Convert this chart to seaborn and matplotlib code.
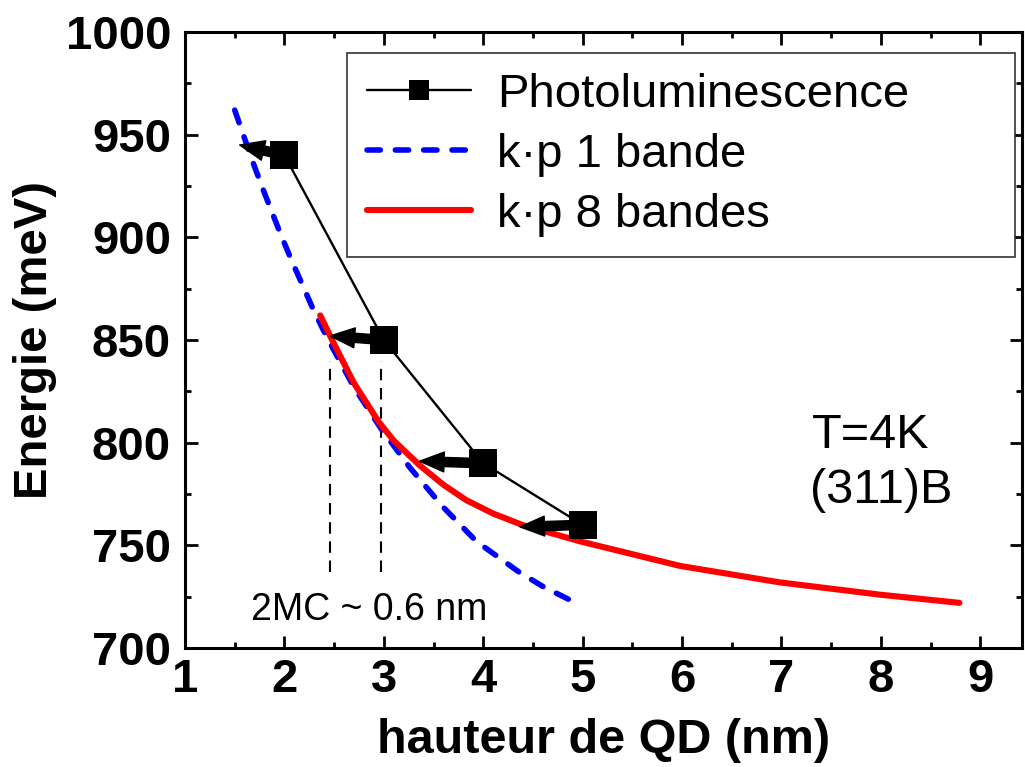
import numpy as np
import pandas as pd
import matplotlib
matplotlib.use("Agg")
import matplotlib.pyplot as plt
import seaborn as sns

# data
pl_h = [2.0, 3.0, 4.0, 5.0]
pl_e = [940, 850, 790, 760]

kp1_h = [1.50, 1.68, 1.78, 1.95, 2.07, 2.18, 2.28, 2.42, 2.70, 2.97, 3.26,
         3.59, 3.75, 3.93, 4.36, 4.60, 4.93]
kp1_e = [962, 937, 924, 903, 889, 877, 866, 852, 827, 807, 788,
         769, 761, 752, 737, 730, 722]

kp8_h = [2.36, 2.48, 2.70, 2.95, 3.10, 3.36, 3.60, 3.83, 4.10, 4.39, 4.97,
         5.98, 6.98, 7.99, 8.79]
kp8_e = [862, 850, 829, 810, 801, 789, 779.5, 772, 765.5, 760, 752,
         740, 732, 726, 722]

# arrows from PL points to the 1-band curve
arrow_tip_h = [1.55, 2.46, 3.36, 4.37]
arrow_tip_e = [945, 852, 791, 759]

# 2 MC markers
mc_h = [2.46, 2.97]
mc_top, mc_bottom = 840, 737

x_ticks = [1, 2, 3, 4, 5, 6, 7, 8, 9]
y_ticks = [700, 750, 800, 850, 900, 950, 1000]

sns.set_theme(style="ticks")
plt.rcParams["font.family"] = ["Liberation Sans", "DejaVu Sans"]
plt.rcParams["text.color"] = "black"
plt.rcParams["axes.labelcolor"] = "black"
plt.rcParams["xtick.color"] = "black"
plt.rcParams["ytick.color"] = "black"

fig = plt.figure(figsize=(10.25, 7.67), dpi=100)
ax = fig.add_axes([0.1805, 0.1551, 0.8166, 0.8031])

sns.lineplot(x=pl_h, y=pl_e, ax=ax, color="black", lw=1.7, marker="s",
             markersize=20, markeredgewidth=0, label="Photoluminescence", zorder=4)
sns.lineplot(x=kp1_h, y=kp1_e, ax=ax, color="#0000ff", lw=4.0,
             linestyle=(0, (2.4, 2.7)), dash_capstyle="round",
             label="k\u00b7p 1 bande", zorder=2)
sns.lineplot(x=kp8_h, y=kp8_e, ax=ax, color="#ff0000", lw=4.4,
             solid_capstyle="round", label="k\u00b7p 8 bandes", zorder=3)

for th, te, h, e in zip(arrow_tip_h, arrow_tip_e, pl_h, pl_e):
    ax.annotate("", xy=(th, te), xytext=(h, e),
                arrowprops=dict(arrowstyle="simple,head_length=0.8,head_width=0.65,tail_width=0.3",
                                color="black", shrinkA=0, shrinkB=0, mutation_scale=22),
                zorder=3.5)

ax.vlines(mc_h, mc_bottom, mc_top, colors="black", lw=1.5,
          linestyles=[(0, (5.5, 3.7))], zorder=1)

ax.text(2.85, 718.6, "2MC ~ 0.6 nm", fontsize=27, ha="center", va="center")
ax.text(7.31, 803.4, "T=4K", fontsize=35, ha="left", va="center")
ax.text(7.29, 776.5, "(311)B", fontsize=35, ha="left", va="center")

ax.set_xlim(1, 9.42)
ax.set_ylim(700, 1000)
ax.set_xticks(x_ticks)
ax.set_yticks(y_ticks)
ax.set_xticks(np.arange(1.5, 9.4, 1.0), minor=True)
ax.set_yticks(np.arange(725, 1000, 50), minor=True)
ax.set_xticklabels([str(t) for t in x_ticks], fontsize=34, fontweight="bold")
ax.set_yticklabels([str(t) for t in y_ticks], fontsize=34, fontweight="bold")
ax.tick_params(which="both", direction="in", top=True, right=True, width=2, color="black")
ax.tick_params(which="major", length=9)
ax.tick_params(which="minor", length=4.5)
ax.tick_params(axis="x", which="major", pad=7)
ax.tick_params(axis="y", which="major", pad=10)
for sp in ax.spines.values():
    sp.set_linewidth(2.2)
    sp.set_color("black")

ax.set_xlabel("hauteur de QD (nm)", fontsize=35, fontweight="bold", labelpad=12)
ax.set_ylabel("Energie (meV)", fontsize=34, fontweight="bold", labelpad=6)

leg = ax.legend(loc="upper left", bbox_to_anchor=(0.1935, 0.641, 0.798, 0.325),
                mode="expand", borderaxespad=0, fontsize=34, frameon=True,
                fancybox=False, framealpha=1, borderpad=0.42, labelspacing=0.34,
                handlelength=2.2, handletextpad=0.55, markerscale=0.7)
leg.get_frame().set_edgecolor("#333333")
leg.get_frame().set_linewidth(1.2)

fig.savefig("out.png", dpi=100)
